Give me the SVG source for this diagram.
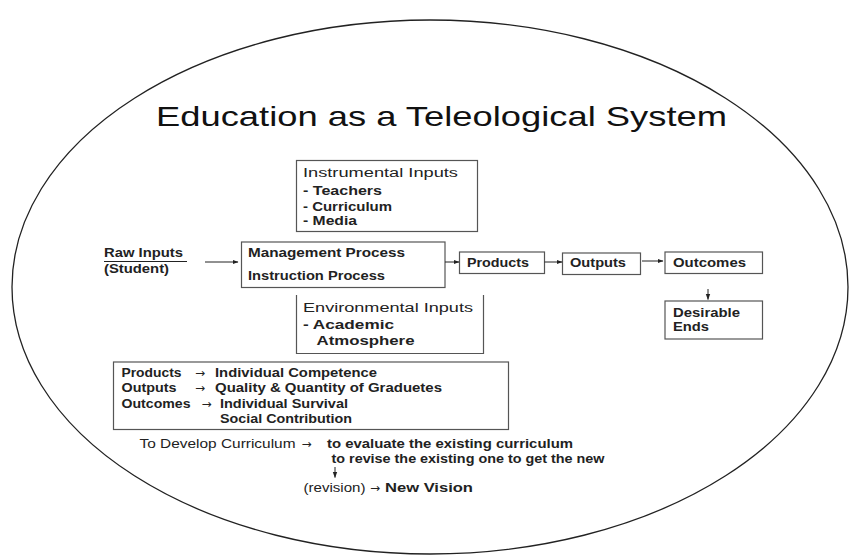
<svg xmlns="http://www.w3.org/2000/svg" width="849" height="555" viewBox="0 0 849 555">
<defs>
<marker id="ah" markerWidth="6" markerHeight="6" refX="5.5" refY="3" orient="auto" markerUnits="userSpaceOnUse">
<path d="M0,0.8 L6,3 L0,5.2 Z" fill="#222"/>
</marker>
<style>
.box{fill:none;stroke:#555;stroke-width:1.2}
.t{font-family:"Liberation Sans",Arial,sans-serif;font-size:12px;fill:#222}
.b{font-family:"Liberation Sans",Arial,sans-serif;font-size:12.5px;fill:#222;font-weight:bold}
.n{font-family:"Liberation Sans",Arial,sans-serif;font-size:12.5px;fill:#222}
.a{font-family:"DejaVu Sans",sans-serif;font-size:12px;fill:#222}
.c{stroke:#222;stroke-width:1;fill:none}
</style>
</defs>
<rect width="849" height="555" fill="#fff"/>
<ellipse cx="430" cy="287" rx="418" ry="267" fill="none" stroke="#222" stroke-width="1.3"/>
<text x="156" y="126" font-family="Liberation Sans,Arial,sans-serif" font-size="28" fill="#111" textLength="571" lengthAdjust="spacingAndGlyphs">Education as a Teleological System</text>

<g id="instrumental">
<rect class="box" x="296.5" y="160.5" width="181" height="71"/>
<text class="t" x="303" y="177" textLength="155" lengthAdjust="spacingAndGlyphs">Instrumental Inputs</text>
<text class="t" x="303" y="195" font-weight="bold" textLength="79" lengthAdjust="spacingAndGlyphs">- Teachers</text>
<text class="t" x="303" y="210.5" font-weight="bold" textLength="89" lengthAdjust="spacingAndGlyphs">- Curriculum</text>
<text class="t" x="303" y="225" font-weight="bold" textLength="54" lengthAdjust="spacingAndGlyphs">- Media</text>
</g>

<g id="raw">
<text class="t" x="104" y="256.5" font-weight="bold" textLength="79" lengthAdjust="spacingAndGlyphs">Raw Inputs</text>
<line x1="104" y1="261.5" x2="187" y2="261.5" stroke="#222" stroke-width="1"/>
<text class="t" x="104" y="272.5" font-weight="bold" textLength="65" lengthAdjust="spacingAndGlyphs">(Student)</text>
</g>

<g id="process">
<rect class="box" x="241.5" y="242" width="203.5" height="45.5"/>
<text class="t" x="248" y="256.5" font-weight="bold" textLength="157" lengthAdjust="spacingAndGlyphs">Management Process</text>
<text class="t" x="248" y="280" font-weight="bold" textLength="137" lengthAdjust="spacingAndGlyphs">Instruction Process</text>
</g>

<g id="environmental">
<path class="box" d="M296.5,295 V353.5 H483.5 V295"/>
<text class="t" x="303" y="311.5" font-size="13" textLength="170" lengthAdjust="spacingAndGlyphs">Environmental Inputs</text>
<text class="t" x="303" y="328.5" font-size="13" font-weight="bold" textLength="91" lengthAdjust="spacingAndGlyphs">- Academic</text>
<text class="t" x="316.5" y="345" font-size="13" font-weight="bold" textLength="98" lengthAdjust="spacingAndGlyphs">Atmosphere</text>
</g>

<g id="products">
<rect class="box" x="459.5" y="252" width="85" height="21.5"/>
<text class="t" x="467" y="267" font-weight="bold" textLength="62" lengthAdjust="spacingAndGlyphs">Products</text>
</g>

<g id="outputs">
<rect class="box" x="562.5" y="253" width="78" height="21.5"/>
<text class="t" x="570" y="267" font-weight="bold" textLength="56" lengthAdjust="spacingAndGlyphs">Outputs</text>
</g>

<g id="outcomes">
<rect class="box" x="665" y="252" width="97.5" height="21.5"/>
<text class="t" x="673" y="267" font-weight="bold" textLength="73" lengthAdjust="spacingAndGlyphs">Outcomes</text>
</g>

<g id="desirable">
<rect class="box" x="665" y="301" width="97.5" height="38"/>
<text class="t" x="673" y="316.5" font-weight="bold" textLength="67" lengthAdjust="spacingAndGlyphs">Desirable</text>
<text class="t" x="673" y="331" font-weight="bold" textLength="36" lengthAdjust="spacingAndGlyphs">Ends</text>
</g>

<g id="summary">
<rect class="box" x="113.5" y="362" width="395" height="67.5"/>
<text class="b" x="121.5" y="377" textLength="60" lengthAdjust="spacingAndGlyphs">Products</text>
<text class="a" x="195" y="377">→</text>
<text class="b" x="215" y="377" textLength="162" lengthAdjust="spacingAndGlyphs">Individual Competence</text>
<text class="b" x="121.5" y="392" textLength="55" lengthAdjust="spacingAndGlyphs">Outputs</text>
<text class="a" x="195" y="392">→</text>
<text class="b" x="215" y="392" textLength="227" lengthAdjust="spacingAndGlyphs">Quality &amp; Quantity of Graduetes</text>
<text class="b" x="121.5" y="407.5" textLength="69" lengthAdjust="spacingAndGlyphs">Outcomes</text>
<text class="a" x="201.5" y="407.5">→</text>
<text class="b" x="220" y="407.5" textLength="128" lengthAdjust="spacingAndGlyphs">Individual Survival</text>
<text class="b" x="220" y="423" textLength="132" lengthAdjust="spacingAndGlyphs">Social Contribution</text>
</g>

<g id="develop">
<text class="n" x="139.5" y="448" textLength="156" lengthAdjust="spacingAndGlyphs">To Develop Curriculum</text>
<text class="a" x="301.5" y="448">→</text>
<text class="b" x="327" y="448" textLength="246" lengthAdjust="spacingAndGlyphs">to evaluate the existing curriculum</text>
<text class="b" x="331.5" y="462.5" textLength="273" lengthAdjust="spacingAndGlyphs">to revise the existing one to get the new</text>
<text class="n" x="303.5" y="492" textLength="62" lengthAdjust="spacingAndGlyphs">(revision)</text>
<text class="a" x="370" y="492">→</text>
<text class="b" x="385" y="492" textLength="88" lengthAdjust="spacingAndGlyphs">New Vision</text>
</g>

<g id="connectors">
<line class="c" x1="205" y1="262" x2="238" y2="262" marker-end="url(#ah)"/>
<line class="c" x1="445" y1="262" x2="459" y2="262" marker-end="url(#ah)"/>
<line class="c" x1="544.5" y1="262" x2="562" y2="262" marker-end="url(#ah)"/>
<line class="c" x1="642" y1="261" x2="663" y2="261" marker-end="url(#ah)"/>
<line class="c" x1="708" y1="289" x2="708" y2="299.5" marker-end="url(#ah)"/>
<line class="c" x1="335" y1="467" x2="335" y2="477.5" marker-end="url(#ah)"/>
</g>
</svg>
